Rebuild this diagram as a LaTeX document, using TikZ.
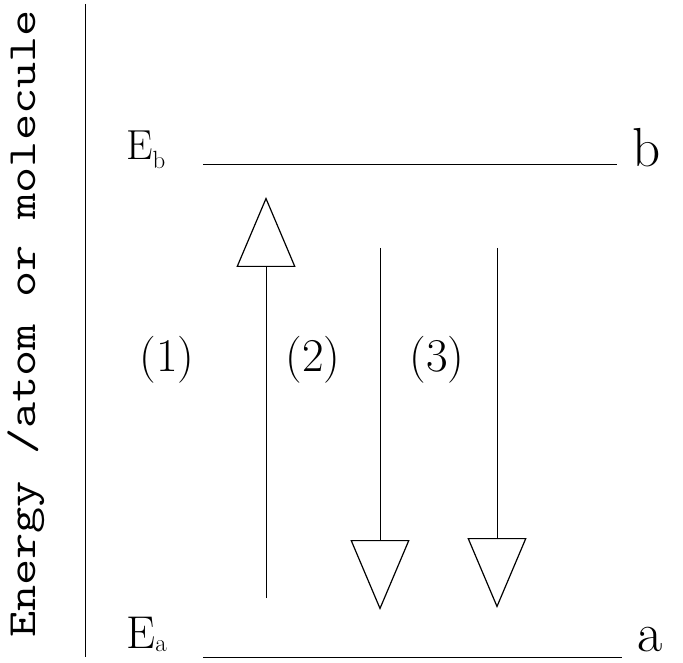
\documentclass[tikz,border=0pt]{standalone}
\usetikzlibrary{arrows.meta,positioning}

\begin{document}
\begin{tikzpicture}[
  x=1pt, y=-1pt,
  level/.style={line width=1pt},
  trans/.style={line width=1pt, -{Triangle[open, length=70pt, width=59pt, line width=1.2pt]}},
  lbl/.style={font=\fontsize{47}{50}\selectfont, inner sep=0pt},
  elbl/.style={font=\fontsize{42}{46}\selectfont, inner sep=0pt, anchor=base west},
  state/.style={font=\fontsize{55}{60}\selectfont, inner sep=0pt, anchor=base west}
]
  \useasboundingbox (0,0) rectangle (683,663);
  % energy axis
  \coordinate (axtop) at (85,4);
  \coordinate (axbot) at (85,657);
  \draw[line width=1pt] (axtop) -- (axbot);
  \node[rotate=90, xscale=1.27, inner sep=0pt, font=\ttfamily\fontsize{40}{44}\selectfont] (axis) at (26,324) {Energy /atom or molecule};

  % levels
  \node[elbl] (Eb) at (126,160) {E$_{\mathrm{b}}$};
  \node[elbl, font=\fontsize{46}{50}\selectfont] (Ea) at (126,648) {E$_{\mathrm{a}}$};
  \coordinate (bl) at (203,165);
  \coordinate (br) at (617,165);
  \coordinate (al) at (203,657);
  \coordinate (ar) at (622,657);
  \draw[level] (bl) -- (br);
  \draw[level] (al) -- (ar);
  \node[state] (b) at (632,167) {b};
  \node[state] (a) at (637,651) {a};

  % transitions
  \coordinate (up0) at (266,598);
  \coordinate (up1) at (266,197);
  \coordinate (dn2a) at (380,248);
  \coordinate (dn2b) at (380,610);
  \coordinate (dn3a) at (497,248);
  \coordinate (dn3b) at (497,608);
  \draw[trans] (up0) -- (up1);
  \draw[trans] (dn2a) -- (dn2b);
  \draw[trans] (dn3a) -- (dn3b);

  \node[lbl] (t1) at (167,360) {(1)};
  \node[lbl] (t2) at (313,360) {(2)};
  \node[lbl] (t3) at (437,360) {(3)};
\end{tikzpicture}
\end{document}
